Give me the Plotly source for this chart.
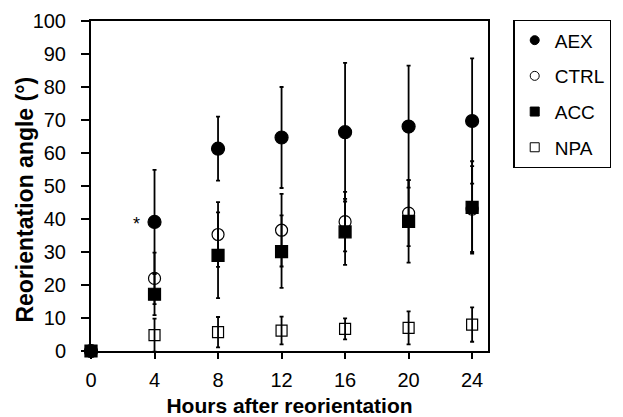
import plotly.graph_objects as go

hours = [0, 4, 8, 12, 16, 20, 24]

aex = [0, 39.1, 61.3, 64.7, 66.3, 68.0, 69.7]
aex_err = [0, 15.8, 9.7, 15.3, 21.0, 18.5, 19.0]

ctrl = [0, 22.0, 35.3, 36.6, 39.2, 41.8, 43.0]
ctrl_err = [0, 7.8, 9.8, 11.0, 9.0, 10.0, 13.0]

acc = [0, 17.2, 29.0, 30.1, 36.1, 39.3, 43.5]
acc_err = [0, 6.3, 13.0, 11.0, 10.0, 12.5, 14.0]

npa = [0, 4.8, 5.7, 6.2, 6.7, 7.0, 8.0]
npa_err = [0, 5.0, 4.6, 4.2, 3.2, 5.0, 5.2]

series = [
    ("AEX", aex, aex_err, "circle", 13),
    ("CTRL", ctrl, ctrl_err, "circle-open", 12),
    ("ACC", acc, acc_err, "square", 12),
    ("NPA", npa, npa_err, "square-open", 11),
]

fig = go.Figure()
for name, vals, errs, sym, size in series:
    fig.add_trace(go.Scatter(
        x=hours, y=vals, mode="markers", name=name, showlegend=False,
        marker=dict(symbol=sym, size=size, color="black",
                    line=dict(color="black", width=1.2)),
        error_y=dict(type="data", array=errs, visible=True,
                     color="black", thickness=1.8, width=2),
        cliponaxis=False,
    ))
# legend entries (smaller symbols, as in the reference legend)
for name, vals, errs, sym, size in series:
    fig.add_trace(go.Scatter(
        x=[None], y=[None], mode="markers", name=name, legendgroup=name,
        marker=dict(symbol=sym, size=9, color="black",
                    line=dict(color="black", width=1)),
    ))

fig.add_annotation(x=2.85, y=38.5, text="*", showarrow=False,
                   font=dict(size=18, color="black"))

# y-axis title
fig.add_annotation(x=-0.1654, y=0.46, xref="paper", yref="paper",
                   text="<b>Reorientation angle (°)</b>", textangle=-90,
                   showarrow=False, xanchor="center", yanchor="middle",
                   font=dict(size=23, color="black"))

font = "Liberation Sans, Arial, sans-serif"
fig.update_layout(
    width=615, height=409,
    margin=dict(l=83, r=127, t=13, b=66),
    plot_bgcolor="white", paper_bgcolor="white",
    font=dict(family=font, size=20, color="black"),
    showlegend=True,
    legend=dict(x=1.064, y=1.003, xanchor="left", yanchor="top",
                bordercolor="black", borderwidth=1.3, bgcolor="white",
                font=dict(size=19), tracegroupgap=8,
                itemsizing="trace", itemwidth=30),
)
fig.update_xaxes(
    range=[0, 25], tickvals=hours, ticks="outside", ticklen=6,
    tickwidth=1.8, tickcolor="black", ticklabelstandoff=4,
    showline=True, linecolor="black", linewidth=2, mirror=True,
    showgrid=False, zeroline=False, automargin=False,
    title=dict(text="<b>Hours after reorientation</b>", standoff=9,
               font=dict(size=21)),
    tickfont=dict(size=20),
)
fig.update_yaxes(
    range=[0, 100], dtick=10, ticks="outside", ticklen=8,
    tickwidth=1.8, tickcolor="black", ticklabelstandoff=11,
    showline=True, linecolor="black", linewidth=2, mirror=True,
    showgrid=False, zeroline=False, automargin=False,
    tickfont=dict(size=20),
)

fig.write_html("out.html")
